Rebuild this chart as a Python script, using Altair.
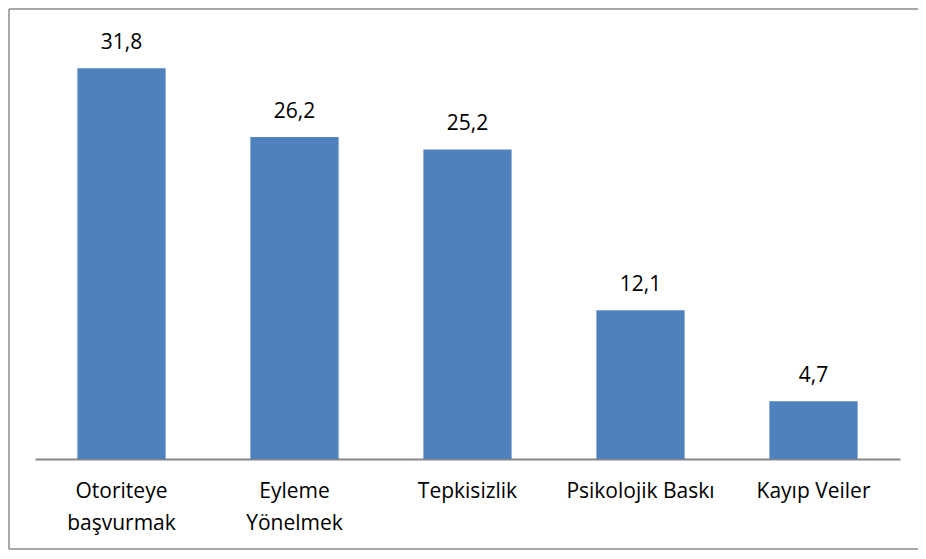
import altair as alt
import pandas as pd

categories = ["Otoriteye başvurmak", "Eyleme Yönelmek", "Tepkisizlik", "Psikolojik Baskı", "Kayıp Veiler"]
values = [31.8, 26.2, 25.2, 12.1, 4.7]
label_lines = [["Otoriteye", "başvurmak"], ["Eyleme", "Yönelmek"], ["Tepkisizlik"], ["Psikolojik Baskı"], ["Kayıp Veiler"]]

df = pd.DataFrame({"cat": categories, "val": values})

parts = []
for c, lines in zip(categories, label_lines):
    arr = "[" + ",".join("'" + l + "'" for l in lines) + "]"
    parts.append(f"datum.label == '{c}' ? {arr} : ")
label_expr = "".join(parts) + "datum.label"

FONT = "Open Sans"
FS = 21

base = alt.Chart(df).encode(
    x=alt.X("cat:N", sort=categories,
            scale=alt.Scale(paddingInner=0.49, paddingOuter=0.245),
            axis=alt.Axis(title=None, ticks=False, labelAngle=0, labelFont=FONT,
                          labelFontSize=FS, labelColor="#000000", labelPadding=21,
                          labelLineHeight=32, labelExpr=label_expr,
                          domainColor="#868686", domainWidth=2, labelLimit=300)),
    y=alt.Y("val:Q", scale=alt.Scale(domain=[0, 35], nice=False), axis=None),
)

bars = base.mark_bar(color="#4F81BD")
texts = base.transform_calculate(
    lbl="replace(format(datum.val, '.1f'), '.', ',')"
).mark_text(baseline="alphabetic", dy=-19, font=FONT, fontSize=FS, color="#000000").encode(
    text="lbl:N"
)

one = pd.DataFrame({"a": [0]})
frame_style = dict(color="#8a8a8a", strokeWidth=1.5)
top = alt.Chart(one).mark_rule(**frame_style).encode(
    x=alt.value(-26), x2=alt.value(883), y=alt.value(-20))
bottom = alt.Chart(one).mark_rule(**frame_style).encode(
    x=alt.value(-26), x2=alt.value(883), y=alt.value(520))
left = alt.Chart(one).mark_rule(**frame_style).encode(
    x=alt.value(-26), y=alt.value(-20), y2=alt.value(520))

chart = alt.layer(top, bottom, left, bars, texts).properties(
    width=865, height=430,
    autosize=alt.AutoSizeParams(type="none"),
    padding={"left": 27, "top": 21, "right": 18, "bottom": 92},
).configure_view(stroke=None)

chart.save("out.html", embed_options={"renderer": "svg", "actions": False})
